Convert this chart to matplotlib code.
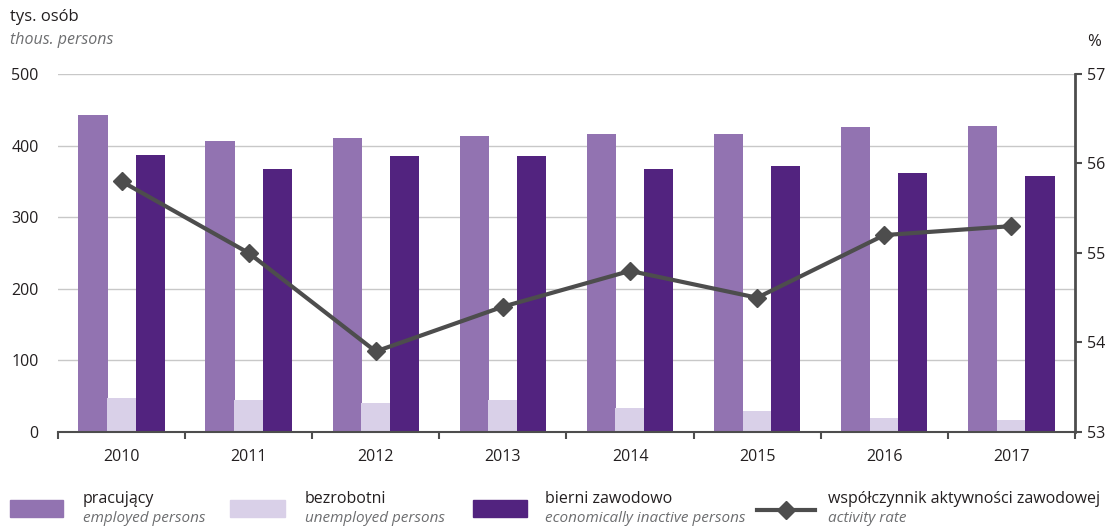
import numpy as np
import matplotlib.pyplot as plt
from matplotlib.patches import Rectangle
from matplotlib.lines import Line2D

# data
years = ['2010', '2011', '2012', '2013', '2014', '2015', '2016', '2017']
employed = [443, 406, 410, 413, 416, 416, 426, 428]
unemployed = [47, 44, 41, 44, 33, 29, 19, 17]
inactive = [387, 367, 385, 385, 368, 371, 362, 358]
activity_rate = [55.8, 55.0, 53.9, 54.4, 54.8, 54.5, 55.2, 55.3]

c_emp = '#9273b1'
c_unemp = '#d9d0e8'
c_inact = '#52237f'
c_line = '#4d4d4d'
c_text = '#231f20'
c_sub = '#6d6e70'

plt.rcParams['font.family'] = ['Open Sans', 'DejaVu Sans']

fig = plt.figure(figsize=(11.09, 5.27), dpi=100)
ax = fig.add_axes([0.0523, 0.1803, 0.917, 0.6793])

x = np.arange(len(years))
w = 0.23
ax.bar(x - 0.225, employed, w, color=c_emp, zorder=2)
ax.bar(x, unemployed, w, color=c_unemp, zorder=2)
ax.bar(x + 0.225, inactive, w, color=c_inact, zorder=2)

ax.set_xlim(-0.5, len(years) - 0.5)
ax.set_ylim(0, 500)
ax.set_yticks([0, 100, 200, 300, 400, 500])
ax.yaxis.grid(True, color='#c8c8c8', linewidth=1, zorder=0)
ax.set_axisbelow(True)
for s in ['top', 'left', 'right']:
    ax.spines[s].set_visible(False)
ax.spines['bottom'].set_color(c_line)
ax.spines['bottom'].set_linewidth(1.5)
ax.set_xticks(x)
ax.set_xticklabels(years)
ax.set_xticks(np.arange(-0.5, len(years)), minor=True)
ax.tick_params(axis='x', which='major', length=0, pad=12, labelsize=11.5, labelcolor=c_text)
ax.tick_params(axis='x', which='minor', length=5, width=1.5, color=c_line, direction='out')
ax.tick_params(axis='y', length=0, pad=14, labelsize=11.5, labelcolor=c_text)

ax2 = ax.twinx()
ax2.plot(x, activity_rate, color=c_line, linewidth=3, marker='D', markersize=9, zorder=5)
ax2.set_ylim(53, 57)
ax2.set_yticks([53, 54, 55, 56, 57])
for s in ['top', 'left', 'bottom']:
    ax2.spines[s].set_visible(False)
ax2.spines['right'].set_color(c_line)
ax2.spines['right'].set_linewidth(2)
ax2.tick_params(axis='y', length=5, width=1.5, color=c_line, labelsize=11.5, labelcolor=c_text, pad=4)

# axis titles
fig.text(10 / 1109, 1 - 17 / 527, 'tys. osób', fontsize=12, color=c_text, va='center')
fig.text(10 / 1109, 1 - 40 / 527, 'thous. persons', fontsize=11.5, color=c_sub, style='italic', va='center')
fig.text(1087 / 1109, 1 - 42 / 527, '%', fontsize=12, color=c_text, va='center')

# legend drawn by hand
W, H = 1109, 527
entries = [
    (10, 63, 83, c_emp, 'pracujący', 'employed persons'),
    (230, 285, 305, c_unemp, 'bezrobotni', 'unemployed persons'),
    (473, 527, 545, c_inact, 'bierni zawodowo', 'economically inactive persons'),
]
for x0, x1, tx, col, pl, en in entries:
    fig.patches.append(Rectangle((x0 / W, 1 - 517 / H), (x1 - x0) / W, 17 / H,
                                 transform=fig.transFigure, color=col))
    fig.text(tx / W, 1 - 499 / H, pl, fontsize=11.5, color=c_text, va='center')
    fig.text(tx / W, 1 - 518 / H, en, fontsize=11, color=c_sub, style='italic', va='center')

fig.lines.append(Line2D([757 / W, 815 / W], [1 - 510 / H, 1 - 510 / H], transform=fig.transFigure,
                        color=c_line, linewidth=3))
fig.lines.append(Line2D([786 / W], [1 - 510 / H], transform=fig.transFigure, color=c_line,
                        marker='D', markersize=9, linestyle='none'))
fig.text(828 / W, 1 - 499 / H, 'współczynnik aktywności zawodowej', fontsize=11.5, color=c_text, va='center')
fig.text(828 / W, 1 - 518 / H, 'activity rate', fontsize=11, color=c_sub, style='italic', va='center')

fig.savefig('out.png', dpi=100)
